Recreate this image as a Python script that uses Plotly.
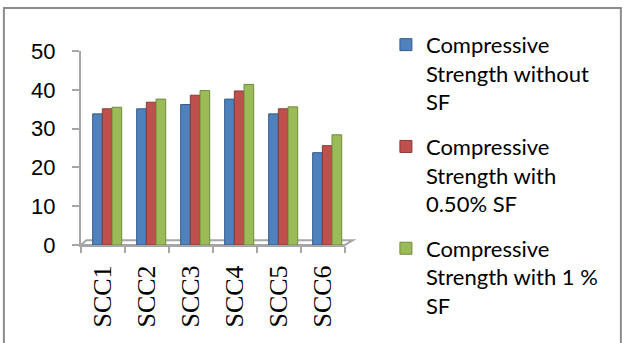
import plotly.graph_objects as go

# Mix designs and compressive strength results (MPa)
categories = ["SCC1", "SCC2", "SCC3", "SCC4", "SCC5", "SCC6"]
without_sf = [33.8, 35.1, 36.2, 37.6, 33.8, 23.8]
with_050_sf = [35.1, 36.8, 38.6, 39.7, 35.1, 25.6]
with_1_sf = [35.5, 37.6, 39.8, 41.4, 35.6, 28.4]

series_names = [
    "Compressive<br>Strength without<br>SF",
    "Compressive<br>Strength with<br>0.50% SF",
    "Compressive<br>Strength with 1 %<br>SF",
]
series_values = [without_sf, with_050_sf, with_1_sf]
fill_colors = ["#4F81BD", "#C0504D", "#9BBB59"]
edge_colors = ["#385D8A", "#8C3836", "#71893F"]
bar_offsets = [-0.235, -0.015, 0.205]

fig = go.Figure()
for i, (name, vals) in enumerate(zip(series_names, series_values)):
    fig.add_trace(go.Bar(
        x=categories,
        y=vals,
        name=name,
        legendgroup=f"g{i}",
        width=0.22,
        offset=bar_offsets[i],
        marker=dict(color=fill_colors[i], line=dict(color=edge_colors[i], width=1)),
    ))

axis_grey = "#A6A6A6"

fig.update_layout(
    width=623,
    height=343,
    margin=dict(l=81, r=278, t=51, b=98),
    paper_bgcolor="white",
    plot_bgcolor="white",
    barmode="overlay",
    showlegend=True,
    legend=dict(
        x=1.155, xanchor="left",
        y=1.14, yanchor="top",
        valign="top",
        maxheight=343,
        font=dict(family="Lato", size=22, color="#000000"),
        tracegroupgap=13,
        itemclick=False,
        bgcolor="rgba(0,0,0,0)",
    ),
    xaxis=dict(
        range=[-0.5, 5.5],
        showline=True, linecolor=axis_grey, linewidth=2,
        ticks="outside", tickson="boundaries", ticklen=6, tickcolor=axis_grey, tickwidth=2,
        tickangle=-90,
        tickfont=dict(family="Liberation Serif", size=26, color="#000000"),
        ticklabelstandoff=8,
        showgrid=False, zeroline=False,
    ),
    yaxis=dict(
        range=[0, 50],
        dtick=10,
        showline=True, linecolor=axis_grey, linewidth=2,
        ticks="outside", ticklen=7, tickcolor=axis_grey, tickwidth=2,
        tickfont=dict(family="Liberation Sans", size=22, color="#000000"),
        ticklabelstandoff=12,
        showgrid=False, zeroline=False,
    ),
    shapes=[
        # shallow 3D floor under the columns
        dict(type="path", xref="paper", yref="paper", layer="below",
             path="M 0,0 L 0.02,0.025 L 1.03,0.025 L 1.0,0 Z",
             line=dict(color=axis_grey, width=2), fillcolor="rgba(0,0,0,0)"),
        # outer chart frame
        dict(type="rect", xref="paper", yref="paper",
             x0=-0.292, x1=2.045, y0=-0.7, y1=1.222,
             line=dict(color="#8C8C8C", width=2), fillcolor="rgba(0,0,0,0)"),
    ],
)

fig.write_html("out.html")
